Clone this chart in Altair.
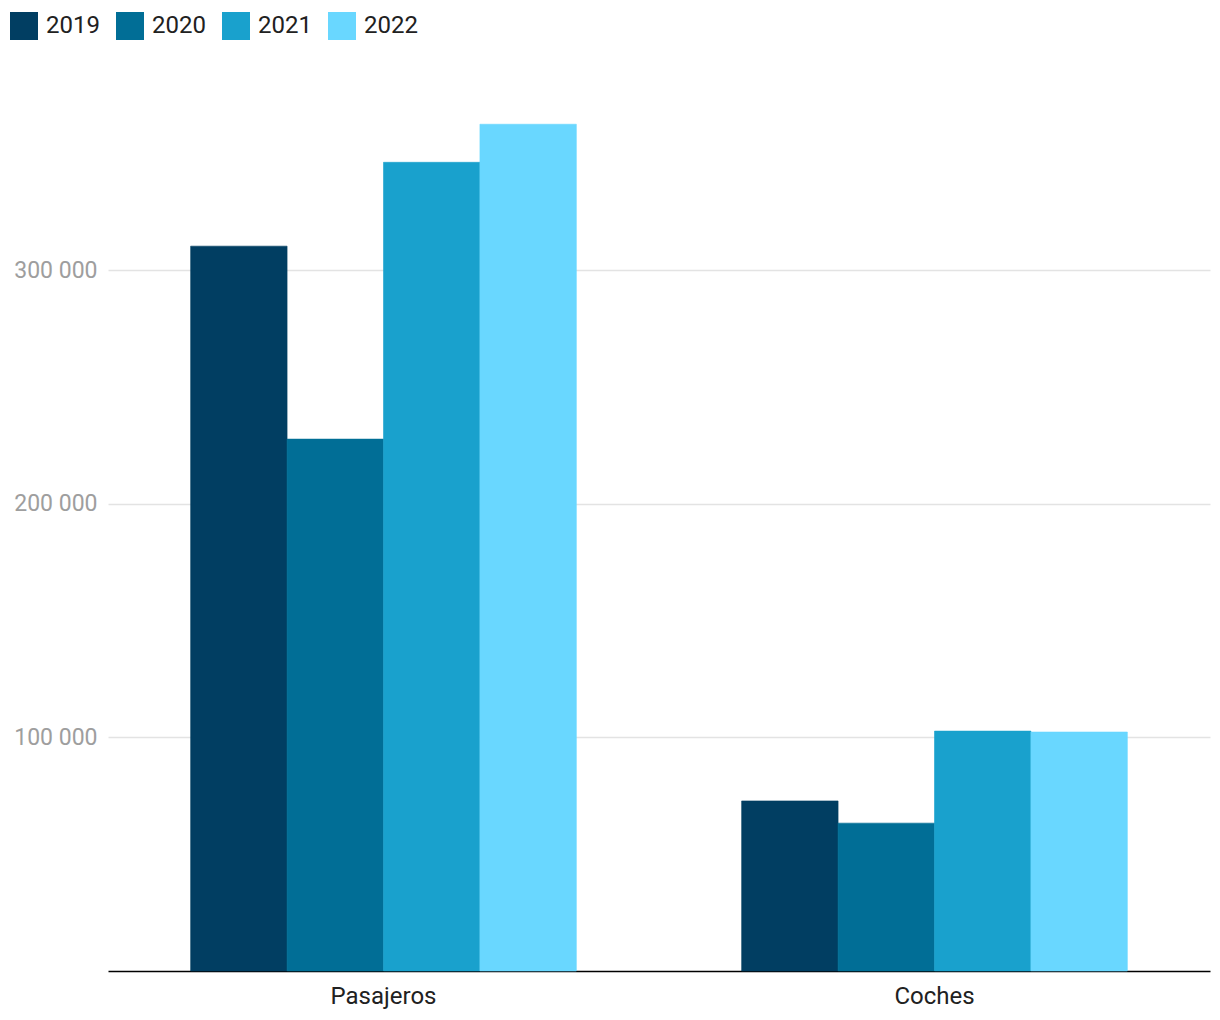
import altair as alt
import pandas as pd

categories = ["Pasajeros", "Coches"]
years = ["2019", "2020", "2021", "2022"]
pasajeros = [310300, 227700, 346200, 362500]
coches = [72800, 63300, 102700, 102300]
colors = ["#013e62", "#016e96", "#19a1cd", "#69d7ff"]
y_ticks = [100000, 200000, 300000]

rows = []
for cat, vals in zip(categories, [pasajeros, coches]):
    for yr, v in zip(years, vals):
        rows.append({"cat": cat, "year": yr, "value": v})
df = pd.DataFrame(rows)

FONT = "Roboto"

chart = alt.Chart(df).mark_bar(strokeWidth=0.6).encode(
    x=alt.X(
        "cat:N", sort=categories, title=None,
        scale=alt.Scale(paddingInner=0.3, paddingOuter=0.15),
        axis=alt.Axis(labelAngle=0, labelFont=FONT, labelFontSize=24, labelColor="#212121",
                      domainColor="#000000", domainWidth=1.5, ticks=False, labelPadding=13, grid=False),
    ),
    xOffset=alt.XOffset("year:N", sort=years, scale=alt.Scale(paddingInner=0, paddingOuter=0)),
    y=alt.Y(
        "value:Q", title=None,
        scale=alt.Scale(domain=[0, 390000], nice=False),
        axis=alt.Axis(values=y_ticks, labelExpr="format(datum.value/1000, 'd') + ' 000'",
                      labelFont=FONT, labelFontSize=23, labelColor="#9e9e9e", domain=False, ticks=False,
                      labelPadding=11, gridColor="#e3e3e3", gridWidth=1.5),
    ),
    color=alt.Color(
        "year:N",
        scale=alt.Scale(domain=years, range=colors),
        legend=alt.Legend(orient="none", legendX=-98, legendY=-48, direction="horizontal", title=None,
                          symbolType="square", symbolSize=784, symbolStrokeWidth=0, symbolOpacity=1,
                          labelFont=FONT, labelFontSize=24, labelColor="#212121", labelOffset=8,
                          columnPadding=16, padding=0),
    ),
    stroke=alt.Stroke("year:N", scale=alt.Scale(domain=years, range=colors), legend=None),
).properties(
    width=1102, height=911,
    background="white",
    autosize=alt.AutoSizeParams(type="none"),
    padding={"left": 108, "top": 60, "right": 10, "bottom": 49},
).configure_view(strokeWidth=0, stroke="transparent")

chart.save("out.html", embed_options={"renderer": "svg", "actions": False})
